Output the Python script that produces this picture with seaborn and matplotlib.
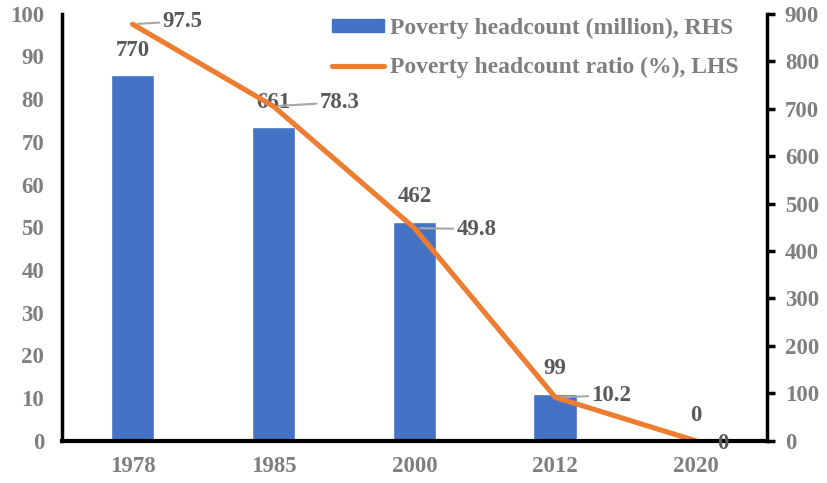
import matplotlib
matplotlib.use("Agg")
import matplotlib.pyplot as plt
import seaborn as sns
import pandas as pd
from matplotlib.patches import Patch
from matplotlib.lines import Line2D

years = ["1978", "1985", "2000", "2012", "2020"]
headcount = [770, 661, 462, 99, 0]          # million, right axis
ratio = [97.5, 78.3, 49.8, 10.2, 0]         # %, left axis
left_ticks = list(range(0, 101, 10))
right_ticks = list(range(0, 901, 100))

sns.set_theme(style="white")
plt.rcParams["font.family"] = ["Liberation Serif", "DejaVu Serif"]
plt.rcParams["font.weight"] = "bold"

GRAY = "#7f7f7f"
DARK = "#595959"
BLUE = "#4472C4"
ORANGE = "#ED7D31"
FS = 16.5
LW = 3.7

df = pd.DataFrame({"year": years, "headcount": headcount, "ratio": ratio})

fig = plt.figure(figsize=(8.28, 4.83), dpi=100)
ax1 = fig.add_subplot(111)
ax2 = ax1.twinx()
fig.subplots_adjust(left=0.075, right=0.926, top=0.972, bottom=0.087)

sns.barplot(data=df, x="year", y="headcount", ax=ax2, color=BLUE,
            width=0.31, saturation=1, order=years)
sns.pointplot(data=df, x="year", y="ratio", ax=ax1, color=ORANGE,
              markers="", linestyles="-", order=years, errorbar=None)
for ln in ax1.lines:
    ln.set_linewidth(LW)
    ln.set_solid_capstyle("round")

ax1.set_zorder(ax2.get_zorder() + 1)
ax1.patch.set_visible(False)

ax1.set_ylim(0, 100)
ax2.set_ylim(0, 900)
ax1.set_xlim(-0.5, len(years) - 0.5)
ax1.set_yticks(left_ticks)
ax2.set_yticks(right_ticks)
ax1.set_xlabel("")
ax1.set_ylabel("")
ax2.set_xlabel("")
ax2.set_ylabel("")

for a in (ax1, ax2):
    for s in a.spines.values():
        s.set_visible(False)
ax1.spines["left"].set_visible(True)
ax1.spines["left"].set_linewidth(2.5)
ax1.spines["left"].set_color("black")
ax1.spines["bottom"].set_visible(True)
ax1.spines["bottom"].set_linewidth(3)
ax1.spines["bottom"].set_color("black")
ax2.spines["right"].set_visible(True)
ax2.spines["right"].set_linewidth(2.5)
ax2.spines["right"].set_color("black")

ax1.tick_params(axis="y", left=False, length=0, labelsize=FS, labelcolor=GRAY, pad=13)
ax1.tick_params(axis="x", bottom=False, length=0, labelsize=FS, labelcolor=GRAY, pad=11)
ax2.tick_params(axis="y", right=True, direction="out", length=6, width=2.5,
                color="black", labelsize=FS, labelcolor=GRAY, pad=7)
ax2.tick_params(axis="x", bottom=False, labelbottom=False)
for lab in ax1.get_xticklabels() + ax1.get_yticklabels() + ax2.get_yticklabels():
    lab.set_fontweight("bold")

# bar value labels
for i, v in enumerate(headcount):
    ax2.annotate(f"{v}", xy=(i, v), xytext=(0, 25), textcoords="offset pixels",
                 ha="center", va="center", fontsize=FS, fontweight="bold", color=DARK)

# line value labels with leader lines (offset: right, down in pixels)
offsets = [(30, -3), (46, -4), (42, 1), (36, -2), (21, 3)]
for i, (v, off) in enumerate(zip(ratio, offsets)):
    txt = f"{v:g}"
    ax1.annotate(txt, xy=(i, v), xytext=(off[0], -off[1]), textcoords="offset pixels",
                 ha="left", va="center", fontsize=FS, fontweight="bold", color=DARK,
                 arrowprops=dict(arrowstyle="-", color="#a6a6a6", lw=1.5,
                                 shrinkA=0, shrinkB=4) if v != 0 else None)

handles = [Patch(facecolor=BLUE, edgecolor=BLUE),
           Line2D([0], [0], color=ORANGE, lw=LW, solid_capstyle="round")]
labels = ["Poverty headcount (million), RHS", "Poverty headcount ratio (%), LHS"]
leg = ax1.legend(handles, labels, loc="upper right", bbox_to_anchor=(0.96, 0.99),
                 frameon=False, prop={"size": 17, "weight": "bold"},
                 labelcolor=GRAY, handlelength=2.2, handleheight=0.45,
                 labelspacing=0.75, handletextpad=0.25, borderpad=0, borderaxespad=0)

fig.savefig("out.png", dpi=100)
